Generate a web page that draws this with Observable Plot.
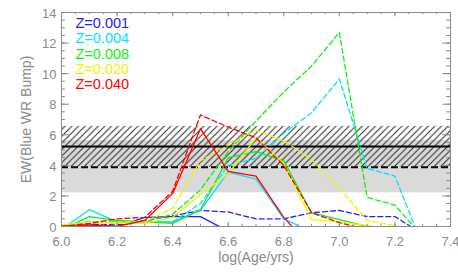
<!DOCTYPE html>
<html><head><meta charset="utf-8">
<script src="https://cdn.jsdelivr.net/npm/d3@7"></script>
<script src="https://cdn.jsdelivr.net/npm/@observablehq/plot@0.6"></script>
<style>html,body{margin:0;padding:0;background:#fff}#chart svg{display:block}</style>
</head><body><div id="chart"></div>
<script>
// ---- data ----
const ages = [6.0, 6.1, 6.2, 6.3, 6.4, 6.5, 6.6, 6.7, 6.8, 6.9, 7.0, 7.1, 7.2, 7.3];
const zLabels = ["Z=0.001", "Z=0.004", "Z=0.008", "Z=0.020", "Z=0.040"];
const zColors = ["#2020ff", "#00e0ff", "#11ee11", "#f2f200", "#ff0000"];
const solid001  = [0, 0.1, 0, 0.6, 0.65, 0.65, -0.3, -0.5, -0.5, -0.5, -0.5, -0.5, -0.5, -0.5];
const dashed001 = [0, 0.15, 0.1, 0.4, 0.7, 1.05, 0.95, 0.5, 0.5, 0.9, 1.05, 0.65, 0.65, -0.5];
const solid004  = [-0.2, 1.1, 0.3, 0.3, 0.3, 1.05, 3.55, 3.1, 0.5, -0.35, -0.5, -0.5, -0.5, -0.5];
const dashed004 = [0, 0.35, 0.2, 0.3, 0.3, 1.5, 4.0, 4.45, 6.1, 7.45, 9.65, 3.8, 3.3, -1.3];
const solid008  = [-0.2, 0.65, 0.4, 0.3, 0.2, 1.1, 4.5, 4.9, 4.3, 0.9, 0.45, 0.0, -0.3, -0.5];
const dashed008 = [0, 0.2, 0.35, 0.3, 0.8, 2.4, 4.9, 6.9, 8.8, 10.5, 12.7, 1.9, 1.4, -0.7];
const solid020  = [0.1, 0.3, 0.2, 0.2, 0.6, 2.1, 3.45, 5.8, 4.1, 0.45, 0.3, 0.07, -0.3, -0.5];
const dashed020 = [0, 0.2, 0.3, 0.3, 1.2, 4.3, 5.3, 6.3, 5.6, 4.4, 2.5, 0.4, 0.05, -0.5];
const solid040  = [0, 0.1, 0, 0.4, 2.15, 6.4, 3.6, 3.3, 0.6, -1.4, -1.5, -1.5, -1.5, -1.5];
const dashed040 = [0, 0.2, 0.5, 0.6, 2.3, 7.3, 6.5, 5.8, 4.0, 0.9, 0.25, -0.2, -0.5, -0.5];
const grayBand  = [2.2, 5.62];
const hatchBand = [3.88, 6.55];
const meanLine  = [5.23];
const lowLine   = [3.88];
const xTicks = [6.0, 6.2, 6.4, 6.6, 6.8, 7.0, 7.2, 7.4];
const yTicks = [0, 2, 4, 6, 8, 10, 12, 14];
const xDomain = [6.0, 7.4];
const yDomain = [0, 14];

// ---- build table ----
const solids = [solid001, solid004, solid008, solid020, solid040];
const dasheds = [dashed001, dashed004, dashed008, dashed020, dashed040];
const rows = [];
zLabels.forEach((z, i) => {
  ages.forEach((a, j) => rows.push({z, style: "solid", age: a, ew: solids[i][j]}));
  ages.forEach((a, j) => rows.push({z, style: "dashed", age: a, ew: dasheds[i][j]}));
});
const xMinor = d3.range(0, 29).map(k => +(xDomain[0] + k * 0.05).toFixed(2));
const yMinor = d3.range(0, 29).map(k => k * 0.5);

const W = 458, H = 275, mL = 61, mR = 8, mT = 12, mB = 49;
const pW = W - mL - mR, pH = H - mT - mB;
const axisGray = "#8a8a8a";
const font = "'Liberation Sans', Arial, sans-serif";

const lineMarks = [];
zLabels.forEach((z, i) => {
  lineMarks.push(Plot.line(rows.filter(r => r.z === z && r.style === "solid"),
    {x: "age", y: "ew", stroke: zColors[i], strokeWidth: 1.3, clip: true}));
  lineMarks.push(Plot.line(rows.filter(r => r.z === z && r.style === "dashed"),
    {x: "age", y: "ew", stroke: zColors[i], strokeWidth: 1.3, strokeDasharray: "5,3", clip: true}));
});

const legendMarks = zLabels.map((z, i) => Plot.text([z], {
  text: d => d, frameAnchor: "top-left", dx: 14, dy: 11 + i * 15.2,
  textAnchor: "start", lineAnchor: "middle", fill: zColors[i], fontSize: 14.5
}));

const chart = Plot.plot({
  width: W, height: H,
  marginLeft: mL, marginRight: mR, marginTop: mT, marginBottom: mB,
  x: {domain: xDomain, axis: null},
  y: {domain: yDomain, axis: null},
  style: {fontFamily: font, background: "#fff"},
  marks: [
    Plot.rect([grayBand], {x1: () => xDomain[0], x2: () => xDomain[1], y1: d => d[0], y2: d => d[1], fill: "#dadada"}),
    Plot.rect([hatchBand], {x1: () => xDomain[0], x2: () => xDomain[1], y1: d => d[0], y2: d => d[1], fill: "url(#hatch)"}),
    Plot.ruleY(meanLine, {y: d => d, stroke: "#000", strokeWidth: 2}),
    Plot.ruleY(lowLine, {y: d => d, stroke: "#000", strokeWidth: 2, strokeDasharray: "7,3"}),
    ...lineMarks,
    Plot.frame({stroke: axisGray}),
    // ticks (inward, IDL style)
    Plot.ruleX(xMinor, {x: d => d, insetTop: pH - 2.2, stroke: axisGray}),
    Plot.ruleX(xMinor, {x: d => d, insetBottom: pH - 2.2, stroke: axisGray}),
    Plot.ruleX(xTicks, {x: d => d, insetTop: pH - 4.3, stroke: axisGray}),
    Plot.ruleX(xTicks, {x: d => d, insetBottom: pH - 4.3, stroke: axisGray}),
    Plot.ruleY(yMinor, {y: d => d, insetRight: pW - 3.9, stroke: axisGray}),
    Plot.ruleY(yMinor, {y: d => d, insetLeft: pW - 3.9, stroke: axisGray}),
    Plot.ruleY(yTicks, {y: d => d, insetRight: pW - 7.8, stroke: axisGray}),
    Plot.ruleY(yTicks, {y: d => d, insetLeft: pW - 7.8, stroke: axisGray}),
    // tick labels
    Plot.text(xTicks, {x: d => d, frameAnchor: "bottom", dy: 15, text: d => d.toFixed(1), fill: axisGray, fontSize: 13, lineAnchor: "middle"}),
    Plot.text(yTicks, {y: d => d, frameAnchor: "left", dx: -5, dy: 1, text: d => String(d), textAnchor: "end", lineAnchor: "middle", fill: axisGray, fontSize: 13}),
    // axis titles
    Plot.text(["log(Age/yrs)"], {text: d => d, frameAnchor: "bottom", dy: 31, textAnchor: "middle", lineAnchor: "middle", fill: axisGray, fontSize: 14}),
    Plot.text(["EW(Blue WR Bump)"], {text: d => d, frameAnchor: "left", dx: -35, rotate: -90, textAnchor: "middle", lineAnchor: "middle", fill: axisGray, fontSize: 14}),
    ...legendMarks
  ]
});

const defs = document.createElementNS("http://www.w3.org/2000/svg", "defs");
const s = 6.6;
defs.innerHTML = `<pattern id="hatch" patternUnits="userSpaceOnUse" width="${s}" height="${s}">
  <path d="M-1,1 L1,-1 M0,${s} L${s},0 M${s-1},${s+1} L${s+1},${s-1}" stroke="#222" stroke-width="1"/>
</pattern>`;
chart.prepend(defs);
document.getElementById("chart").append(chart);
</script>
</body></html>
